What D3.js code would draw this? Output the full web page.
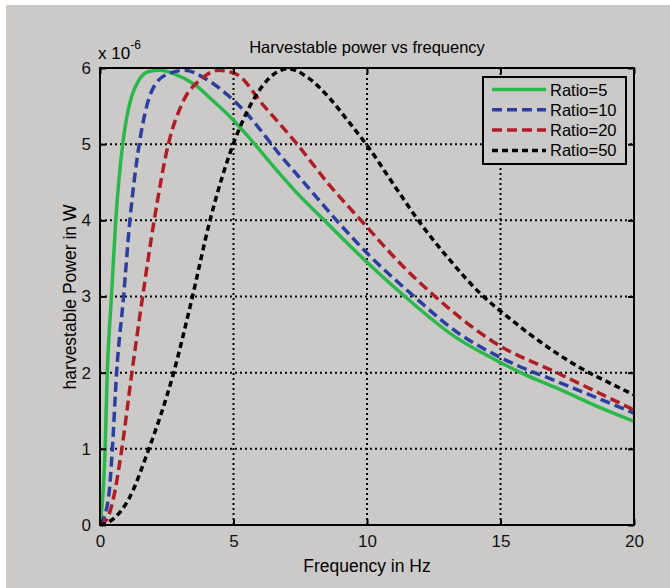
<!DOCTYPE html>
<html>
<head>
<meta charset="utf-8">
<style>
  body { margin: 0; background: #fff; }
  svg { display: block; font-family: "Liberation Sans", Arial, sans-serif; }
</style>
</head>
<body>
<svg width="670" height="588"></svg>
<script src="https://d3js.org/d3.v7.min.js"></script>
<script>

// values (frequency in Hz, power in units of 1e-6 W)
var f5  = [0, 0.19, 0.27, 0.42, 0.59, 0.85, 1.0, 1.18, 1.44, 1.8, 2.25, 2.8, 3.56, 4.2, 4.87, 5.6, 6.49, 7.4, 8.4, 10.0, 11.42, 13.3, 14.8, 16.0, 17.29, 18.6, 20];
var p5  = [0, 0.98, 1.99, 2.95, 4.0, 5.0, 5.35, 5.62, 5.83, 5.95, 5.97, 5.92, 5.78, 5.58, 5.36, 5.08, 4.71, 4.35, 4.0, 3.45, 3.0, 2.47, 2.17, 1.96, 1.77, 1.56, 1.36];

var f10 = [0, 0.31, 0.46, 0.62, 0.87, 1.12, 1.47, 1.75, 2.06, 2.6, 3.18, 3.9, 4.56, 5.5, 6.74, 7.8, 8.86, 10.0, 11.67, 13.42, 15.17, 17.29, 20];
var p10 = [0, 0.33, 0.98, 1.99, 2.95, 4.0, 5.0, 5.5, 5.78, 5.93, 5.97, 5.87, 5.71, 5.4, 4.86, 4.43, 4.0, 3.57, 3.03, 2.52, 2.17, 1.86, 1.47];

var f20 = [0, 0.25, 0.49, 0.81, 1.19, 1.56, 2.03, 2.56, 3.1, 3.81, 4.43, 5.1, 6.12, 7.36, 8.6, 9.93, 11.2, 12.55, 14.8, 17.29, 20];
var p20 = [0, 0.07, 0.33, 0.98, 1.99, 2.91, 4.0, 5.0, 5.55, 5.86, 5.97, 5.92, 5.51, 5.01, 4.46, 3.94, 3.45, 3.0, 2.39, 1.97, 1.51];

var f50 = [0, 0.5, 1.06, 1.81, 2.75, 3.43, 4.12, 4.99, 5.5, 6.12, 6.6, 7.05, 7.8, 8.61, 9.3, 9.99, 11.0, 11.92, 13.1, 14.3, 15.17, 16.04, 17.0, 18.0, 19.0, 20];
var p50 = [0, 0.08, 0.33, 0.98, 1.99, 2.95, 4.0, 5.0, 5.42, 5.78, 5.94, 5.99, 5.87, 5.60, 5.3, 4.99, 4.47, 4.0, 3.48, 3.02, 2.76, 2.52, 2.28, 2.06, 1.88, 1.71];

var seriesNames = ["Ratio=5", "Ratio=10", "Ratio=20", "Ratio=50"];
var xTicks = [0, 5, 10, 15, 20];
var yTicks = [0, 1, 2, 3, 4, 5, 6];

var series = [
  {name: seriesNames[0], f: f5,  p: p5,  color: "#2bb84b", dash: null},
  {name: seriesNames[1], f: f10, p: p10, color: "#2b3fa0", dash: "10,5"},
  {name: seriesNames[2], f: f20, p: p20, color: "#b01e25", dash: "10,5"},
  {name: seriesNames[3], f: f50, p: p50, color: "#000000", dash: "6,4"}
];

var svg = d3.select("svg");

svg.append("rect")
    .attr("x", 6).attr("y", 5)
    .attr("width", 664).attr("height", 583)
    .attr("fill", "#cbcac8");

var pLeft = 100, pRight = 634, pTop = 68, pBottom = 525;

var x = d3.scaleLinear().domain([0, 20]).range([pLeft, pRight]);
var y = d3.scaleLinear().domain([0, 6]).range([pBottom, pTop]);

// grid
var grid = svg.append("g")
    .attr("stroke", "#000")
    .attr("stroke-width", 2)
    .attr("stroke-dasharray", "2,3");

grid.selectAll(".gx")
  .data(xTicks.slice(1, -1))
  .enter().append("line")
    .attr("x1", function(d) { return x(d); })
    .attr("x2", function(d) { return x(d); })
    .attr("y1", pTop).attr("y2", pBottom);

grid.selectAll(".gy")
  .data(yTicks.slice(1, -1))
  .enter().append("line")
    .attr("y1", function(d) { return y(d); })
    .attr("y2", function(d) { return y(d); })
    .attr("x1", pLeft).attr("x2", pRight);

// curves
var line = d3.line()
    .x(function(d) { return x(d[0]); })
    .y(function(d) { return y(d[1]); })
    .curve(d3.curveMonotoneX);

svg.append("defs").append("clipPath").attr("id", "clip")
  .append("rect")
    .attr("x", pLeft).attr("y", pTop - 2)
    .attr("width", pRight - pLeft).attr("height", pBottom - pTop + 2);

svg.append("g").attr("clip-path", "url(#clip)")
  .selectAll("path")
  .data(series)
  .enter().append("path")
    .attr("d", function(s) { return line(d3.zip(s.f, s.p)); })
    .attr("fill", "none")
    .attr("stroke", function(s) { return s.color; })
    .attr("stroke-width", 3.5)
    .attr("stroke-dasharray", function(s) { return s.dash; });

// axes box + ticks
var xAxis = d3.axisBottom(x).tickValues(xTicks).tickSize(-6).tickPadding(10);
var yAxis = d3.axisLeft(y).tickValues(yTicks).tickSize(-6).tickPadding(9).tickFormat(d3.format("d"));

svg.append("g").attr("transform", "translate(0," + pBottom + ")").call(xAxis);
svg.append("g").attr("transform", "translate(" + pLeft + ",0)").call(yAxis);

svg.append("g").attr("transform", "translate(0," + pTop + ")")
    .call(d3.axisTop(x).tickValues(xTicks).tickSize(-6).tickFormat(""));
svg.append("g").attr("transform", "translate(" + pRight + ",0)")
    .call(d3.axisRight(y).tickValues(yTicks).tickSize(-6).tickFormat(""));

svg.selectAll(".domain").remove();
svg.selectAll(".tick line").attr("stroke", "#000").attr("stroke-width", 2);
svg.selectAll(".tick text")
    .attr("fill", "#111")
    .style("font-size", "17px")
    .style("font-family", "Liberation Sans, Arial, sans-serif");

svg.append("rect")
    .attr("x", pLeft).attr("y", pTop)
    .attr("width", pRight - pLeft).attr("height", pBottom - pTop)
    .attr("fill", "none")
    .attr("stroke", "#000")
    .attr("stroke-width", 2);

// texts
svg.append("text")
    .attr("x", 367).attr("y", 53)
    .attr("text-anchor", "middle")
    .style("font-size", "16.5px")
    .text("Harvestable power vs frequency");

var exp = svg.append("text")
    .attr("x", 98).attr("y", 59)
    .style("font-size", "17px");
exp.append("tspan").text("x 10");
exp.append("tspan").attr("dy", -10).style("font-size", "12px").text("-6");

svg.append("text")
    .attr("x", 367).attr("y", 572)
    .attr("text-anchor", "middle")
    .style("font-size", "17.5px")
    .text("Frequency in Hz");

svg.append("text")
    .attr("transform", "translate(76,297) rotate(-90)")
    .attr("text-anchor", "middle")
    .style("font-size", "17.5px")
    .text("harvestable Power in W");

// legend
var legend = svg.append("g");
legend.append("rect")
    .attr("x", 483).attr("y", 77)
    .attr("width", 143).attr("height", 87)
    .attr("fill", "#cbcac8")
    .attr("stroke", "#000")
    .attr("stroke-width", 2);

var item = legend.selectAll(".item")
  .data(series)
  .enter().append("g")
    .attr("transform", function(s, i) { return "translate(0," + (89.5 + i * 20.3) + ")"; });

item.append("line")
    .attr("x1", 492).attr("x2", 546)
    .attr("stroke", function(s) { return s.color; })
    .attr("stroke-width", 3.5)
    .attr("stroke-dasharray", function(s) { return s.dash; });

item.append("text")
    .attr("x", 550).attr("y", 6)
    .style("font-size", "16.5px")
    .text(function(s) { return s.name; });

</script>
</body>
</html>
